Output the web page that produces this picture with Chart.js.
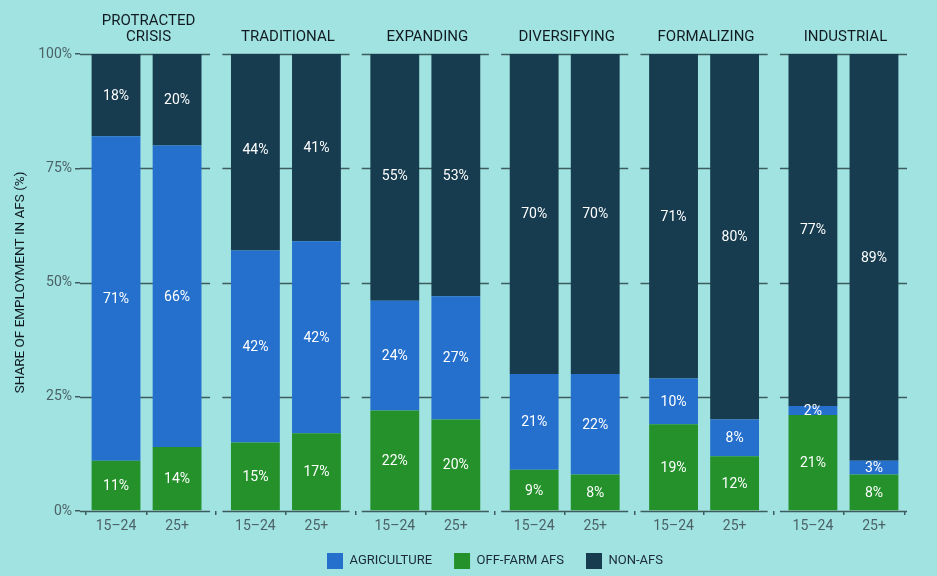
<!DOCTYPE html>
<html>
<head>
<meta charset="UTF-8">
<title>Employment in AFS</title>
<script src="https://cdn.jsdelivr.net/npm/chart.js@4.4.1/dist/chart.umd.min.js"></script>
<style>
  body { margin: 0; background: #a0e3e1; }
  #wrap { width: 937px; height: 576px; }
</style>
</head>
<body>
<div id="wrap"><canvas id="afsChart" width="937" height="576"></canvas></div>

<script>
// groups (country typology) and age bands
var groups = [['PROTRACTED', 'CRISIS'], ['TRADITIONAL'], ['EXPANDING'], ['DIVERSIFYING'], ['FORMALIZING'], ['INDUSTRIAL']];
var ages = ['15\u201324', '25+'];
var yTicks = [0, 25, 50, 75, 100];

// values per bar, in order: group1 15-24, group1 25+, group2 15-24, ...
var offFarm     = [11, 14, 15, 17, 22, 20,  9,  8, 19, 12, 21,  8];
var agriculture = [71, 66, 42, 42, 24, 27, 21, 22, 10,  8,  2,  3];
var nonAfs      = [18, 20, 44, 41, 55, 53, 70, 70, 71, 80, 77, 89];

var GROUP_STEP = 2.283;   // spacing between groups, in bar units
var PAD_L = 0.59, PAD_R = 0.59;

var xPos = [];
var xLabels = [];
groups.forEach(function (g, gi) {
  ages.forEach(function (a, ai) {
    xPos.push(gi * GROUP_STEP + ai);
    xLabels.push(a);
  });
});

function toPoints(arr) {
  return arr.map(function (v, i) { return { x: xPos[i], y: v }; });
}

var gridColor = '#3e5b5e';
var fontFam = 'Roboto, "Liberation Sans", sans-serif';

// gridline segments per group panel, drawn behind the bars
var panelGrid = {
  id: 'panelGrid',
  beforeDatasetsDraw: function (chart) {
    var ctx = chart.ctx, xs = chart.scales.x, ys = chart.scales.y;
    ctx.save();
    ctx.strokeStyle = gridColor;
    ctx.lineWidth = 1.5;
    groups.forEach(function (g, gi) {
      var x0 = xs.getPixelForValue(gi * GROUP_STEP - PAD_L);
      var x1 = xs.getPixelForValue(gi * GROUP_STEP + 1 + PAD_R);
      yTicks.forEach(function (t) {
        var y = Math.round(ys.getPixelForValue(t)) + 0.5;
        ctx.beginPath();
        ctx.moveTo(x0 + (gi === 0 ? 0 : 3), y);
        ctx.lineTo(x1 - 3, y);
        ctx.stroke();
      });
    });
    ctx.restore();
  }
};

// value labels inside the segments + group titles
var labelsPlugin = {
  id: 'labelsPlugin',
  afterDatasetsDraw: function (chart) {
    var ctx = chart.ctx;
    ctx.save();
    ctx.font = '14px ' + fontFam;
    ctx.fillStyle = '#ffffff';
    ctx.textAlign = 'center';
    ctx.textBaseline = 'middle';
    chart.data.datasets.forEach(function (ds, di) {
      var meta = chart.getDatasetMeta(di);
      meta.data.forEach(function (el, i) {
        var v = ds.data[i].y;
        ctx.fillText(v + '%', el.x, (el.y + el.base) / 2 + 1);
      });
    });

    var xs = chart.scales.x;
    ctx.font = '15px ' + fontFam;
    ctx.fillStyle = '#111c22';
    groups.forEach(function (g, gi) {
      var cx = xs.getPixelForValue(gi * GROUP_STEP + 0.5) + 2;
      for (var k = 0; k < g.length; k++) {
        var y = 37 - (g.length - 1 - k) * 16;
        ctx.fillText(g[k], cx, y);
      }
    });
    ctx.restore();
  }
};

var legendOrder = ['AGRICULTURE', 'OFF-FARM AFS', 'NON-AFS'];

var ctx = document.getElementById('afsChart').getContext('2d');
var afsChart = new Chart(ctx, {
  type: 'bar',
  data: {
    datasets: [
      { label: 'OFF-FARM AFS', data: toPoints(offFarm), backgroundColor: '#24912a' },
      { label: 'AGRICULTURE', data: toPoints(agriculture), backgroundColor: '#2570cd' },
      { label: 'NON-AFS', data: toPoints(nonAfs), backgroundColor: '#173b4f' }
    ]
  },
  options: {
    responsive: false,
    animation: false,
    layout: { padding: { top: 54, right: 27, left: 0, bottom: 0 } },
    datasets: { bar: { barPercentage: 0.8, categoryPercentage: 1.0 } },
    scales: {
      x: {
        type: 'linear',
        offset: false,
        stacked: true,
        min: -PAD_L,
        max: (groups.length - 1) * GROUP_STEP + 1 + PAD_R,
        afterBuildTicks: function (scale) {
          scale.ticks = xPos.map(function (v) { return { value: v }; });
        },
        afterFit: function (scale) { scale.height = 20; },
        border: { display: false },
        grid: { drawOnChartArea: false, drawTicks: true, tickLength: 4, color: gridColor, lineWidth: 1.5 },
        ticks: {
          padding: 3,
          maxRotation: 0,
          autoSkip: false,
          color: '#4c6266',
          font: { family: fontFam, size: 14 },
          callback: function (value, index) { return xLabels[index]; }
        }
      },
      y: {
        stacked: true,
        min: 0,
        max: 100,
        afterBuildTicks: function (scale) {
          scale.ticks = yTicks.map(function (v) { return { value: v }; });
        },
        afterFit: function (scale) { scale.width = 80; },
        border: { display: false },
        grid: { drawOnChartArea: false, drawTicks: true, tickLength: 5, color: gridColor, lineWidth: 1.5 },
        ticks: {
          padding: 3,
          color: '#4c6266',
          font: { family: fontFam, size: 14 },
          callback: function (v) { return v + '%'; }
        },
        title: {
          display: true,
          text: 'SHARE OF EMPLOYMENT IN AFS (%)',
          color: '#111c22',
          padding: { top: 13, bottom: 0 },
          font: { family: fontFam, size: 13.5 }
        }
      }
    },
    plugins: {
      tooltip: { enabled: false },
      legend: {
        position: 'bottom',
        fullSize: false,
        maxHeight: 45,
        labels: {
          boxWidth: 16,
          boxHeight: 16,
          padding: 22,
          color: '#1b2a35',
          font: { family: fontFam, size: 13 },
          sort: function (a, b) { return legendOrder.indexOf(a.text) - legendOrder.indexOf(b.text); }
        }
      }
    }
  },
  plugins: [panelGrid, labelsPlugin]
});
</script>
</body>
</html>
